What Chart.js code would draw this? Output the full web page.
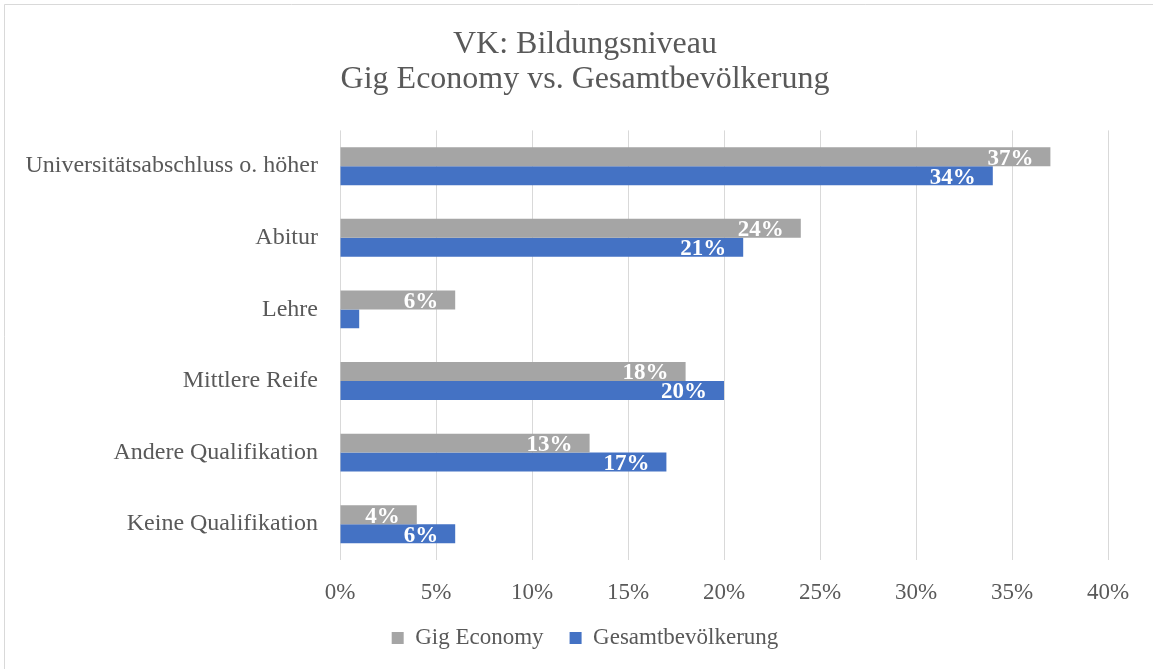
<!DOCTYPE html>
<html>
<head>
<meta charset="utf-8">
<script src="https://cdn.jsdelivr.net/npm/chart.js@4/dist/chart.umd.min.js"></script>
<style>
  html, body { margin: 0; padding: 0; background: #fff; }
  #wrap { width: 1153px; height: 669px; }
</style>
</head>
<body>
<div id="wrap"><canvas id="myChart" width="1153" height="669"></canvas></div>
<script>
const categories = ['Universitätsabschluss o. höher', 'Abitur', 'Lehre', 'Mittlere Reife', 'Andere Qualifikation', 'Keine Qualifikation'];
const gigEconomy = [37, 24, 6, 18, 13, 4];
const gesamt = [34, 21, 1, 20, 17, 6];
const xTicks = [0, 5, 10, 15, 20, 25, 30, 35, 40];

const serif = '"Liberation Serif", "Times New Roman", serif';

// frame round the chart (the original is cut off at right and bottom)
const framePlugin = {
  id: 'frame',
  beforeDraw(chart) {
    const ctx = chart.ctx;
    ctx.save();
    ctx.fillStyle = '#fff';
    ctx.fillRect(0, 0, chart.width, chart.height);
    ctx.strokeStyle = '#d9d9d9';
    ctx.lineWidth = 1;
    ctx.beginPath();
    ctx.moveTo(4.5, chart.height);
    ctx.lineTo(4.5, 4.5);
    ctx.lineTo(chart.width, 4.5);
    ctx.stroke();
    ctx.restore();
  }
};

// white labels at the inner end of each bar
const labelPlugin = {
  id: 'barLabels',
  afterDatasetsDraw(chart) {
    const ctx = chart.ctx;
    ctx.save();
    ctx.font = 'bold 23px ' + serif;
    ctx.fillStyle = '#fff';
    ctx.textAlign = 'right';
    ctx.textBaseline = 'middle';
    chart.data.datasets.forEach((ds, i) => {
      chart.getDatasetMeta(i).data.forEach((bar, j) => {
        const v = ds.data[j];
        const w = bar.x - bar.base;
        if (w < 40) return;
        ctx.fillText(v + '%', bar.x - 17, bar.y + 2);
      });
    });
    ctx.restore();
  }
};

new Chart(document.getElementById('myChart').getContext('2d'), {
  type: 'bar',
  data: {
    labels: categories,
    datasets: [{
      label: 'Gig Economy',
      data: gigEconomy,
      backgroundColor: '#A5A5A5',
      categoryPercentage: 0.53,
      barPercentage: 1.0
    }, {
      label: 'Gesamtbevölkerung',
      data: gesamt,
      backgroundColor: '#4472C4',
      categoryPercentage: 0.53,
      barPercentage: 1.0
    }]
  },
  options: {
    indexAxis: 'y',
    responsive: false,
    animation: false,
    // right padding < 0 so title and legend centre at x=585 like the original
    layout: { padding: { left: 0, right: -17, top: 0, bottom: 9.5 } },
    scales: {
      x: {
        min: 0,
        max: 40,
        afterBuildTicks(scale) {
          scale.ticks = xTicks.map(v => ({ value: v }));
        },
        afterFit(scale) { scale.height = 40.5; },
        grid: { color: '#d9d9d9', drawTicks: false },
        border: { display: false },
        ticks: {
          padding: 19,
          color: '#595959',
          font: { family: serif, size: 23 },
          callback: v => v + '%'
        }
      },
      y: {
        afterFit(scale) { scale.width = 340; },
        grid: { display: false },
        border: { display: false },
        ticks: {
          padding: 14,
          color: '#595959',
          font: { family: serif, size: 24 }
        }
      },
      // empty axis on the right, only to keep the plot off the right edge
      yRight: {
        position: 'right',
        afterFit(scale) { scale.width = 62; },
        grid: { display: false },
        border: { display: false },
        ticks: { display: false }
      }
    },
    plugins: {
      title: {
        display: true,
        text: ['VK: Bildungsniveau', 'Gig Economy vs. Gesamtbevölkerung'],
        color: '#595959',
        font: { family: serif, size: 32, weight: 'normal', lineHeight: 1.1 },
        padding: { top: 27, bottom: 33 }
      },
      legend: {
        position: 'bottom',
        labels: {
          color: '#595959',
          font: { family: serif, size: 23 },
          boxWidth: 12,
          boxHeight: 12,
          padding: 26
        }
      },
      tooltip: { enabled: false }
    }
  },
  plugins: [framePlugin, labelPlugin]
});
</script>
</body>
</html>
